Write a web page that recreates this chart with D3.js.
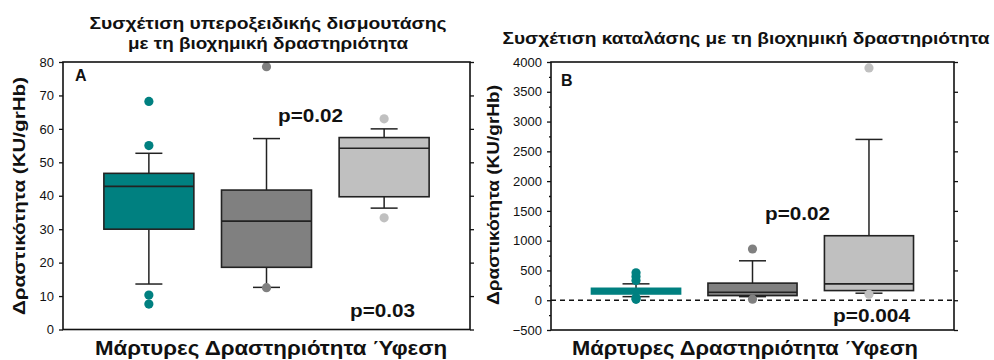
<!DOCTYPE html>
<html>
<head>
<meta charset="utf-8">
<script src="https://cdn.jsdelivr.net/npm/d3@7"></script>
<style>
  body { margin: 0; background: #fff; }
  svg { display: block; font-family: "Liberation Sans", Arial, sans-serif; }
</style>
</head>
<body>
<svg id="chart" width="994" height="360"></svg>
<script>
// ---- data ----
const categories = ["Μάρτυρες", "Δραστηριότητα", "Ύφεση"];
const colors = ["#008080", "#808080", "#c0c0c0"];

// Panel A: superoxide dismutase
const sodTicks = [0, 10, 20, 30, 40, 50, 60, 70, 80];
const sodWhiskerLow = [13.6, 12.6, 36.3];
const sodQ1 = [30, 18.6, 39.7];
const sodMedian = [42.8, 32.4, 54.2];
const sodQ3 = [46.7, 41.7, 57.4];
const sodWhiskerHigh = [52.7, 57.1, 60];
const sodOutliers = [[68.2, 55, 10.3, 7.6], [78.6, 12.5], [63, 33.4]];

// Panel B: catalase
const catTicks = [-500, 0, 500, 1000, 1500, 2000, 2500, 3000, 3500, 4000];
const catWhiskerLow = [60, 60, 118];
const catQ1 = [105, 78, 162];
const catMedian = [150, 135, 275];
const catQ3 = [200, 287, 1083];
const catWhiskerHigh = [275, 662, 2700];
const catOutliers = [[460, 400, 330, 40, 15], [860, 17], [3900, 100]];

const svg = d3.select("#chart");

function panel(opt) {
  const g = svg.append("g");
  const x = d3.scalePoint().domain(categories).range([opt.x0, opt.x1]).padding(0.73);
  const y = d3.scaleLinear().domain(opt.domain).range([opt.y1, opt.y0]);
  const step = x.step();
  const bw = step * 0.765;
  const cw = 27;

  // axes
  const left = d3.axisLeft(y).tickValues(opt.ticks).tickSize(4).tickPadding(5).tickFormat(d3.format("d"));
  const gl = g.append("g").attr("transform", `translate(${opt.x0},0)`).call(left);
  gl.select(".domain").remove();
  gl.selectAll("text").attr("font-size", 13).attr("fill", "#111").attr("font-family", "Liberation Sans, Arial");
  gl.selectAll("line").attr("stroke", "#111").attr("stroke-width", 1.3);
  if (opt.minor) {
    const gm = g.append("g").attr("transform", `translate(${opt.x0},0)`)
      .call(d3.axisLeft(y).tickValues(opt.minor).tickSize(2).tickFormat(""));
    gm.select(".domain").remove();
    gm.selectAll("line").attr("stroke", "#111").attr("stroke-width", 1.3);
  }
  const gr = g.append("g").attr("transform", `translate(${opt.x1},0)`)
    .call(d3.axisRight(y).tickValues(opt.ticks).tickSize(4).tickFormat(""));
  gr.select(".domain").remove();
  gr.selectAll("line").attr("stroke", "#111").attr("stroke-width", 1.3);

  // zero reference line
  if (opt.zeroLine) {
    g.append("line").attr("x1", opt.x0).attr("x2", opt.x1)
      .attr("y1", y(0)).attr("y2", y(0))
      .attr("stroke", "#111").attr("stroke-width", 1.5).attr("stroke-dasharray", "5,4");
  }

  categories.forEach((c, i) => {
    const cx = x(c);
    const col = colors[i];
    const boxStroke = (opt.plainFirst && i === 0) ? col : "#222";
    // whiskers
    g.append("line").attr("x1", cx).attr("x2", cx).attr("y1", y(opt.q3[i])).attr("y2", y(opt.hi[i]))
      .attr("stroke", "#222").attr("stroke-width", 1.5);
    g.append("line").attr("x1", cx).attr("x2", cx).attr("y1", y(opt.q1[i])).attr("y2", y(opt.lo[i]))
      .attr("stroke", "#222").attr("stroke-width", 1.5);
    g.append("line").attr("x1", cx - cw / 2).attr("x2", cx + cw / 2).attr("y1", y(opt.hi[i])).attr("y2", y(opt.hi[i]))
      .attr("stroke", "#222").attr("stroke-width", 1.5);
    g.append("line").attr("x1", cx - cw / 2).attr("x2", cx + cw / 2).attr("y1", y(opt.lo[i])).attr("y2", y(opt.lo[i]))
      .attr("stroke", "#222").attr("stroke-width", 1.5);
    // box
    g.append("rect").attr("x", cx - bw / 2).attr("width", bw)
      .attr("y", y(opt.q3[i])).attr("height", y(opt.q1[i]) - y(opt.q3[i]))
      .attr("fill", col).attr("stroke", boxStroke).attr("stroke-width", 1.6);
    g.append("line").attr("x1", cx - bw / 2).attr("x2", cx + bw / 2)
      .attr("y1", y(opt.med[i])).attr("y2", y(opt.med[i]))
      .attr("stroke", boxStroke).attr("stroke-width", 1.6);
    // outliers
    opt.out[i].forEach(v => {
      g.append("circle").attr("cx", cx).attr("cy", y(v)).attr("r", 4.6).attr("fill", col);
    });
  });

  // frame
  g.append("rect").attr("x", opt.x0).attr("y", opt.y0).attr("width", opt.x1 - opt.x0).attr("height", opt.y1 - opt.y0)
    .attr("fill", "none").attr("stroke", "#111").attr("stroke-width", 1.6);

  // panel letter
  g.append("text").attr("x", opt.letterX).attr("y", opt.letterY).text(opt.letter)
    .attr("font-size", 16).attr("font-weight", "bold").attr("fill", "#111");

  // p-values
  opt.pvals.forEach(p => {
    g.append("text").attr("x", p.x).attr("y", p.y).text(p.t)
      .attr("font-size", 19).attr("font-weight", "bold").attr("fill", "#111")
      .attr("textLength", p.w).attr("lengthAdjust", "spacingAndGlyphs");
  });

  // y label
  g.append("text").attr("transform", `translate(${opt.ylabX},${opt.ylabY}) rotate(-90)`)
    .attr("text-anchor", "middle").text("Δραστικότητα (KU/grHb)")
    .attr("font-size", 16).attr("font-weight", "bold").attr("fill", "#111")
    .attr("textLength", opt.ylabW).attr("lengthAdjust", "spacingAndGlyphs");

  // x label (categories)
  g.append("text").attr("x", opt.xlabX).attr("y", 355).attr("text-anchor", "middle")
    .text(categories.join(" "))
    .attr("font-size", 20).attr("font-weight", "bold").attr("fill", "#111")
    .attr("textLength", opt.xlabW).attr("lengthAdjust", "spacingAndGlyphs");

  // title
  opt.title.forEach(t => {
    g.append("text").attr("x", t.x).attr("y", t.y).attr("text-anchor", "middle").text(t.t)
      .attr("font-size", 17).attr("font-weight", "bold").attr("fill", "#111")
      .attr("textLength", t.w).attr("lengthAdjust", "spacingAndGlyphs");
  });
}

panel({
  x0: 63, x1: 470, y0: 62, y1: 329.5,
  domain: [0, 80], ticks: sodTicks,
  q1: sodQ1, med: sodMedian, q3: sodQ3, lo: sodWhiskerLow, hi: sodWhiskerHigh, out: sodOutliers,
  letter: "A", letterX: 75, letterY: 81,
  pvals: [{ t: "p=0.02", x: 278, y: 122, w: 65 }, { t: "p=0.03", x: 350, y: 317, w: 65 }],
  ylabX: 25, ylabY: 196, ylabW: 238,
  xlabX: 271, xlabW: 352,
  title: [{ t: "Συσχέτιση υπεροξειδικής δισμουτάσης", x: 268, y: 29, w: 357 },
          { t: "με τη βιοχημική δραστηριότητα", x: 268, y: 49, w: 280 }]
});

panel({
  x0: 551, x1: 954, y0: 62, y1: 330,
  domain: [-500, 4000], ticks: catTicks,
  minor: d3.range(-250, 4000, 500),
  zeroLine: true, plainFirst: true,
  q1: catQ1, med: catMedian, q3: catQ3, lo: catWhiskerLow, hi: catWhiskerHigh, out: catOutliers,
  letter: "B", letterX: 561, letterY: 86,
  pvals: [{ t: "p=0.02", x: 765, y: 220, w: 65 }, { t: "p=0.004", x: 833, y: 322, w: 77 }],
  ylabX: 499, ylabY: 195, ylabW: 220,
  xlabX: 745, xlabW: 346,
  title: [{ t: "Συσχέτιση καταλάσης με τη βιοχημική δραστηριότητα", x: 746, y: 44, w: 487 }]
});
</script>
</body>
</html>
